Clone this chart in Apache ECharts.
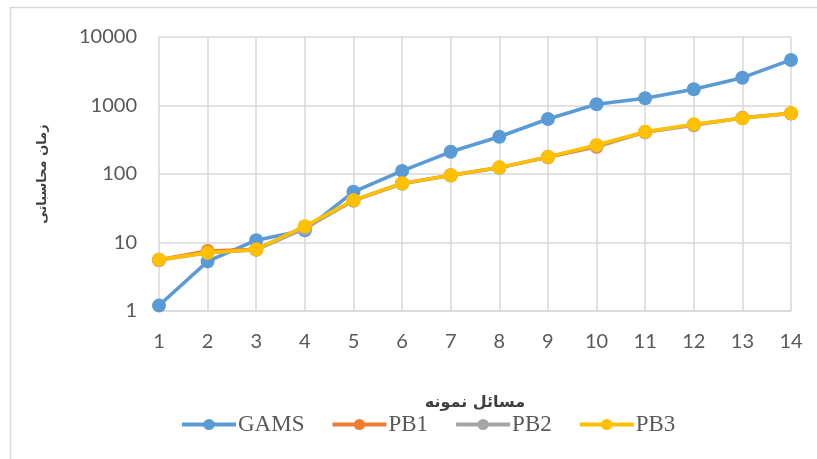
<!DOCTYPE html>
<html>
<head>
<meta charset="utf-8">
<script src="https://cdn.jsdelivr.net/npm/echarts@6/dist/echarts.min.js"></script>
<style>html,body{margin:0;padding:0;background:#fff;}#c{width:817px;height:459px;}</style>
</head>
<body>
<div id="c"></div>
<script>
const categories = ['1','2','3','4','5','6','7','8','9','10','11','12','13','14'];
const seriesNames = ['GAMS','PB1','PB2','PB3'];
const gams = [1.2, 5.3, 10.8, 15.1, 55, 111, 211, 350, 635, 1042, 1274, 1726, 2548, 4624];
const pb1 = [5.6, 7.5, 8.0, 16.5, 41, 73, 96, 124, 176, 250, 410, 525, 660, 770];
const pb2 = [5.5, 7.1, 7.8, 16.0, 41, 72, 95, 123, 178, 258, 405, 515, 655, 765];
const pb3 = [5.6, 7.1, 7.9, 17.3, 41.5, 73, 95.5, 125, 178, 265, 414, 531, 650, 769];
const xTitle = 'مسائل نمونه';
const yTitle = 'زمان محاسباتی';
const colors = ['#5B9BD5','#ED7D31','#A5A5A5','#FFC000'];

const chart = echarts.init(document.getElementById('c'), null, {renderer:'canvas'});
const dataSets = [gams, pb1, pb2, pb3];
chart.setOption({
  animation: false,
  color: colors,
  graphic: [{
    type: 'rect', left: 8, top: 5, shape: {width: 900, height: 500},
    style: {fill: 'none', stroke: '#D9D9D9', lineWidth: 1.5}, z: -10
  }],
  grid: {left: 159, right: 26, top: 37, bottom: 148},
  legend: {
    left: 175, top: 408,
    itemWidth: 54, itemHeight: 14, itemGap: 26,
    lineStyle: {width: 4},
    textStyle: {fontFamily: 'Liberation Serif', fontSize: 23, color: '#595959', padding: [0,0,0,-3]},
    data: seriesNames
  },
  xAxis: {
    type: 'category', data: categories, boundaryGap: false,
    name: xTitle, nameLocation: 'middle', nameGap: 84, nameMoveOverlap: false,
    nameTextStyle: {fontFamily: 'DejaVu Sans', fontWeight: 'bold', fontSize: 16, color: '#404040'},
    axisLine: {lineStyle: {color: '#D9D9D9', width: 1.5}},
    axisTick: {show: false},
    axisLabel: {fontFamily: 'Lato', fontSize: 20, color: '#595959', margin: 21},
    splitLine: {show: true, lineStyle: {color: '#D9D9D9', width: 1.5}}
  },
  yAxis: {
    type: 'log', logBase: 10, min: 1, max: 10000,
    name: yTitle, nameLocation: 'middle', nameGap: 110, nameMoveOverlap: false,
    nameTextStyle: {fontFamily: 'DejaVu Sans', fontWeight: 'bold', fontSize: 13, color: '#404040'},
    axisLine: {show: false},
    axisTick: {show: false},
    axisLabel: {fontFamily: 'Lato', fontSize: 20, color: '#595959', margin: 22,
      formatter: function (v) { return String(Math.round(v)); }},
    splitLine: {show: true, lineStyle: {color: '#D9D9D9', width: 1.5}}
  },
  series: seriesNames.map((n, i) => ({
    name: n, type: 'line', data: dataSets[i],
    symbol: 'circle', symbolSize: 14,
    lineStyle: {width: 3.5, color: colors[i]},
    itemStyle: {color: colors[i]},
    z: 2 + i
  }))
});
</script>
</body>
</html>
